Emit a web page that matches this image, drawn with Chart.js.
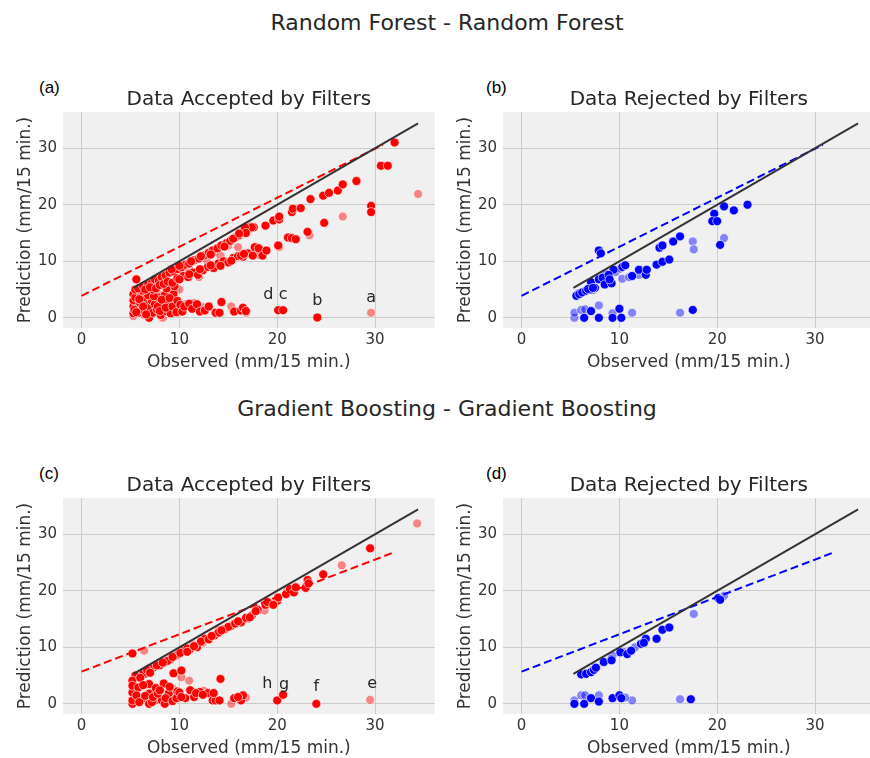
<!DOCTYPE html>
<html>
<head>
<meta charset="utf-8">
<script src="https://cdn.jsdelivr.net/npm/chart.js@4.4.0/dist/chart.umd.min.js"></script>
<style>
  body { margin: 0; width: 870px; height: 758px; overflow: hidden; background: #fff; position: relative; font-family: "DejaVu Sans", sans-serif; }
  .suptitle { position: absolute; left: 0; width: 894px; text-align: center; font-size: 22px; line-height: 26px; color: #262626; }
  .letter { position: absolute; font-family: "Liberation Sans", Arial, sans-serif; font-size: 17px; line-height: 18px; color: #000; }
  canvas { position: absolute; }
</style>
</head>
<body>
<div class="suptitle" style="top:10px">Random Forest - Random Forest</div>
<div class="suptitle" style="top:396px">Gradient Boosting - Gradient Boosting</div>
<div class="letter" style="left:39px;top:79px">(a)</div>
<div class="letter" style="left:486px;top:79px">(b)</div>
<div class="letter" style="left:39px;top:465px">(c)</div>
<div class="letter" style="left:486px;top:465px">(d)</div>
<canvas id="chartA" width="440" height="300" style="left:0;top:80px"></canvas>
<canvas id="chartB" width="440" height="300" style="left:440px;top:80px"></canvas>
<canvas id="chartC" width="440" height="300" style="left:0;top:466px"></canvas>
<canvas id="chartD" width="440" height="300" style="left:440px;top:466px"></canvas>
<script>
// ticks
const xTicks = [0, 10, 20, 30];
const yTicks = [0, 10, 20, 30];

// 1:1 reference line and the fitted lines, [observed, prediction]
const identityLine = [[5.3, 5.3], [34.4, 34.4]];
const rfFitLine = [[0, 3.9], [30.8, 30.6]];
const gbFitLine = [[0, 5.7], [32.1, 26.9]];

// Random Forest, accepted by filters
const rfAcceptedSolid = [
  [5.3,0.8],[5.3,2.0],[5.3,3.1],[5.3,4.2],[5.4,1.4],[5.5,3.6],[5.8,0.9],[6.0,2.6],[6.1,4.2],[6.2,1.4],
  [6.5,3.2],[6.7,2.2],[6.9,0.0],[6.9,1.7],[7.0,4.6],[7.2,3.0],[7.3,0.9],[7.5,2.4],[7.7,1.5],[7.9,3.6],
  [8.1,0.5],[8.3,2.3],[8.5,4.0],[8.7,1.1],[8.9,2.8],[9.2,1.3],[9.4,4.2],[9.1,0.8],[5.6,6.8],
  [5.6,1.0],[5.9,3.3],[6.3,2.0],[6.6,0.6],[6.8,4.0],[7.4,3.8],[7.8,2.0],[8.0,1.2],[8.2,3.2],[8.6,1.8],
  [9.0,3.5],[9.3,2.0],[9.7,1.0],[9.8,3.0],[5.5,5.0],[6.2,4.8],[7.3,5.0],[8.7,5.2],[9.5,5.6],
  [10.1,2.3],[10.3,1.1],[10.5,2.0],[11.0,2.5],[11.3,1.6],[11.8,2.4],[12.1,1.1],[12.6,1.3],[13.0,2.0],
  [13.7,0.9],[14.1,0.9],[14.3,2.8],[15.6,1.1],[16.3,1.3],[16.5,1.8],[16.8,1.2],[20.1,1.35],[20.6,1.35],[24.1,0.05],
  [5.8,5.2],[6.3,5.6],[6.8,6.0],[7.2,6.2],[7.5,6.8],[7.9,6.5],[8.2,7.2],[8.6,7.5],[9.0,8.0],[9.4,8.2],
  [9.8,8.6],[10.2,8.9],[10.6,9.4],[11.0,9.6],[11.5,10.2],[12.0,10.5],[12.5,11.0],[13.0,11.5],[13.4,11.9],
  [13.9,12.3],[14.3,12.8],[14.8,13.2],[15.2,13.6],[15.7,14.2],[16.1,14.6],[16.4,15.0],[16.8,15.3],
  [17.2,15.8],[17.3,16.1],[17.6,16.0],[18.8,16.3],[19.6,17.2],[20.2,17.4],[20.2,17.9],[21.5,18.7],
  [21.6,19.3],[22.4,19.4],[23.4,21.0],[24.7,21.6],[25.3,22.1],[26.2,22.5],[26.7,23.6],[28.1,24.2],
  [30.6,26.9],[31.3,26.9],[32.0,31.0],[29.6,19.8],[29.6,18.7],
  [9.2,8.6],[10.0,9.2],[11.2,10.0],[12.2,10.9],[13.2,11.2],[14.6,12.6],[15.5,14.0],[16.6,15.6],
  [6.5,5.0],[7.0,5.4],[7.6,5.2],[8.0,5.8],[8.4,6.0],[8.8,6.4],[9.3,6.2],[9.8,7.0],[10.4,7.4],[10.9,7.2],
  [11.4,8.0],[11.9,7.6],[12.4,8.4],[12.9,9.0],[13.5,8.8],[14.0,9.6],[14.5,10.0],[15.0,9.8],[15.5,10.6],
  [16.0,10.9],[16.5,10.8],[17.0,11.4],[17.5,11.0],[17.7,12.5],[18.1,12.3],[18.5,11.0],[18.9,11.9],
  [20.1,12.8],[21.1,14.2],[21.5,14.1],[21.9,13.9],[23.1,15.2],[24.8,16.8],[16.3,11.0],[17.4,16.0],
  [16.7,16.0],[16.8,15.0],[16.1,14.9],
  [10.0,6.8],[11.0,7.7],[12.1,8.6],[13.2,9.3],[14.2,9.2],[15.3,10.1],[16.6,11.3]
];
const rfAcceptedFaded = [
  [5.3,0.3],[5.6,2.8],[6.4,0.5],[7.1,1.2],[7.8,3.0],[8.3,0.0],[8.8,3.3],[9.6,2.0],[10.0,5.0],[10.6,2.4],
  [11.5,2.6],[12.3,1.9],[15.3,2.0],[16.8,0.9],[26.7,17.9],[29.6,0.9],[34.4,21.9],[20.2,12.5],[18.2,11.1],
  [12.0,7.2],[11.0,8.6],[13.5,11.5],[15.0,12.8],[7.5,4.5],[6.0,3.5],[9.0,5.0],[23.3,14.6],
  [6.8,2.6],[8.0,4.0],[9.8,1.5],[11.8,1.5],[12.8,10.2],[14.2,11.0],[16.0,12.5],[17.8,11.8]
];

// Random Forest, rejected by filters
const rfRejectedSolid = [
  [7.9,11.9],[8.1,11.4],[5.6,3.9],[5.9,4.2],[6.2,4.5],[6.6,4.8],[7.0,5.0],[7.1,6.3],[7.5,5.3],[7.9,6.8],
  [8.3,7.1],[8.5,5.9],[9.2,6.1],[9.4,8.5],[10.3,9.0],[10.6,9.3],[11.3,7.4],[12.0,8.5],[12.7,7.6],[12.8,8.5],
  [13.8,9.4],[14.4,9.9],[15.1,10.3],[14.1,12.4],[14.4,12.8],[15.5,13.5],[16.2,14.4],[19.7,18.4],[19.5,17.1],
  [20.0,17.1],[20.7,19.7],[21.7,19.0],[23.1,20.0],[20.3,12.9],[6.4,0.0],[7.1,1.2],[7.9,0.0],[9.3,0.0],
  [10.0,1.6],[10.2,0.0],[17.5,1.4],[6.8,5.1],[7.3,5.3],[8.9,7.6],[9.0,6.8]
];
const rfRejectedFaded = [
  [17.5,13.5],[17.6,12.1],[20.7,14.1],[10.3,6.9],[9.6,8.1],[10.1,8.7],[12.0,7.6],[8.6,7.8],[7.3,4.9],
  [5.4,0.0],[5.4,0.9],[6.1,1.4],[6.5,1.5],[7.9,2.2],[11.3,0.9],[16.2,0.9],[9.3,0.8],[11.0,7.2],[5.8,4.3]
];

// Gradient Boosting, accepted by filters
const gbAcceptedSolid = [
  [5.2,8.9],[6.0,5.0],[6.5,5.3],[6.9,5.9],[7.4,6.5],[7.9,7.1],[8.5,7.4],[9.1,7.9],[9.6,8.5],[10.4,9.4],
  [11.1,9.7],[11.8,10.0],[12.6,11.5],[13.6,12.1],[14.0,12.6],[14.6,13.2],[15.3,13.8],[16.3,14.4],[17.4,15.6],
  [18.0,16.6],[18.8,17.5],[20.0,18.2],[20.1,18.8],[20.9,19.4],[21.3,20.3],[21.7,19.7],[23.0,20.9],[23.1,21.9],
  [24.7,22.9],[29.5,27.5],[7.0,6.2],[8.0,6.8],[8.8,7.6],[9.9,8.8],[10.8,9.8],[12.2,11.0],[13.0,11.4],
  [15.0,13.6],[16.8,15.2],[17.2,15.3],
  [5.5,5.0],[6.3,5.4],[6.7,6.0],[7.7,6.8],[8.3,7.3],[9.3,8.3],[10.1,9.0],[10.8,9.2],[11.5,10.2],[13.3,12.0],
  [14.3,13.0],[15.7,14.2],[16.0,14.6],[17.8,16.4],[19.0,18.0],[19.6,17.5],[21.9,20.6],[22.9,20.5],[23.2,21.3],
  [5.2,4.1],[5.2,0.0],[5.2,0.6],[5.2,2.0],[5.2,3.2],[5.8,2.9],[6.2,0.9],[6.0,4.6],[6.9,1.8],[6.9,0.0],
  [6.9,3.5],[7.0,5.5],[7.5,0.6],[7.6,2.8],[8.2,0.6],[8.4,3.6],[8.9,1.8],[8.5,0.0],[9.4,5.4],[10.2,5.9],
  [10.6,1.0],[11.1,2.4],[12.1,2.1],[12.9,1.9],[13.4,0.6],[14.2,4.4],[15.6,1.0],[16.3,0.6],[16.5,1.5],
  [20.0,0.6],[20.6,1.6],[24.0,0.0],[9.8,2.2],[11.5,1.2],[13.7,0.6],
  [5.6,1.5],[5.9,0.3],[6.3,3.3],[6.5,1.4],[7.2,0.3],[7.3,1.2],[7.8,1.8],[8.0,2.4],[8.6,1.0],[9.0,3.0],
  [9.3,0.5],[9.7,1.0],[10.0,2.0],[10.2,1.2],[11.7,1.9],[12.4,1.6],[13.5,1.9],[14.1,0.6],[16.0,1.2]
];
const gbAcceptedFaded = [
  [34.3,31.9],[26.6,24.5],[18.7,16.5],[6.4,9.4],[29.5,0.7],[15.3,0.0],[11.0,4.1],[10.2,4.7],[9.4,2.6],
  [7.2,2.1],[5.8,1.2],[17.0,15.0],[19.2,17.8],[12.4,10.8],[11.4,10.5],[8.2,7.0],[6.6,5.9],[5.5,2.5],
  [16.8,1.1],[12.5,2.3],[14.0,13.0],[21.0,20.0]
];

// Gradient Boosting, rejected by filters
const gbRejectedSolid = [
  [6.1,5.2],[6.6,5.3],[7.1,5.6],[7.4,6.0],[7.6,6.4],[8.4,7.4],[9.2,7.9],[10.1,9.1],[10.8,8.8],[11.2,9.4],
  [12.2,10.6],[12.7,11.5],[13.8,11.5],[14.4,13.1],[15.1,13.5],[20.1,18.7],[20.3,18.4],[5.4,0.0],[6.4,0.0],
  [7.1,1.0],[7.9,0.4],[9.3,1.0],[10.0,1.5],[10.2,1.0],[17.3,0.8],[9.2,7.7],[12.5,10.8]
];
const gbRejectedFaded = [
  [5.4,0.6],[6.1,1.5],[6.5,1.5],[7.9,1.5],[11.3,0.6],[16.2,0.8],[6.5,5.4],[7.2,5.9],[9.3,8.5],[10.4,9.2],
  [11.6,10.0],[17.6,15.9],[20.7,19.1],[10.6,1.1]
];

// point labels: [text, observed, prediction]
const rfLabels = [['a', 29.6, 2.85], ['b', 24.1, 2.25], ['c', 20.6, 3.25], ['d', 19.1, 3.25]];
const gbLabels = [['e', 29.7, 2.8], ['f', 24.0, 2.2], ['g', 20.7, 2.7], ['h', 19.0, 2.8]];

const TEXT = '#333';
Chart.defaults.font.family = '"DejaVu Sans", sans-serif';

function toXY(pairs) {
  return pairs.map(([x, y]) => ({x: x, y: y}));
}

// grey panel behind the plot area
const panelBg = {
  id: 'panelBg',
  beforeDraw(chart) {
    const a = chart.chartArea;
    chart.ctx.save();
    chart.ctx.fillStyle = '#f0f0f0';
    chart.ctx.fillRect(a.left, a.top, a.right - a.left, a.bottom - a.top);
    chart.ctx.restore();
  }
};

// letters next to single points
const pointLetters = {
  id: 'pointLetters',
  afterDatasetsDraw(chart, args, opts) {
    const ctx = chart.ctx;
    ctx.save();
    ctx.font = '16px "DejaVu Sans"';
    ctx.fillStyle = '#262626';
    ctx.textAlign = 'center';
    ctx.textBaseline = 'alphabetic';
    (opts.items || []).forEach(([txt, x, y]) => {
      ctx.fillText(txt, chart.scales.x.getPixelForValue(x), chart.scales.y.getPixelForValue(y));
    });
    ctx.restore();
  }
};

function pointSet(pts, fill) {
  return {
    data: toXY(pts),
    backgroundColor: fill,
    borderColor: 'rgba(255,255,255,0.8)',
    borderWidth: 0.8,
    pointRadius: 4.5
  };
}

function lineSet(pts, color, dash) {
  return {
    data: toXY(pts),
    showLine: true,
    borderColor: color,
    borderWidth: 2,
    borderDash: dash,
    pointRadius: 0
  };
}

// Builds one sub plot
function buildPanel(id, title, solid, faded, fitLine, color, fadedColor, letters) {
  return new Chart(document.getElementById(id), {
    type: 'scatter',
    data: {
      datasets: [
        lineSet(identityLine, '#333', []),
        lineSet(fitLine, color, [8, 4]),
        pointSet(solid, color),
        pointSet(faded, fadedColor)
      ]
    },
    options: {
      responsive: false,
      animation: false,
      layout: {padding: {left: 0, right: 3, top: 0, bottom: 0}},
      plugins: {
        legend: {display: false},
        tooltip: {enabled: false},
        title: {
          display: true,
          fullSize: false,
          text: title,
          color: '#262626',
          font: {size: 20, weight: 'normal'},
          padding: {top: 8, bottom: 0}
        },
        pointLetters: {items: letters}
      },
      scales: {
        x: {
          type: 'linear',
          min: -1.9,
          max: 36.1,
          afterBuildTicks: s => { s.ticks = xTicks.map(v => ({value: v})); },
          afterFit: s => { s.height = 52; },
          grid: {color: '#cbcbcb', lineWidth: 1, drawTicks: false},
          border: {display: false},
          ticks: {color: TEXT, font: {size: 15}, padding: 3},
          title: {display: true, text: 'Observed (mm/15 min.)', color: TEXT, font: {size: 17}, padding: {top: 0, bottom: 7}}
        },
        y: {
          type: 'linear',
          min: -1.8,
          max: 36.4,
          afterBuildTicks: s => { s.ticks = yTicks.map(v => ({value: v})); },
          afterFit: s => { s.width = 63; },
          grid: {color: '#cbcbcb', lineWidth: 1, drawTicks: false},
          border: {display: false},
          ticks: {color: TEXT, font: {size: 15}, padding: 6},
          title: {display: true, text: 'Prediction (mm/15 min.)', color: TEXT, font: {size: 17}, padding: {top: 15, bottom: 0}}
        }
      }
    },
    plugins: [panelBg, pointLetters]
  });
}

const RED = 'rgb(255,0,0)', RED_FADED = 'rgba(255,0,0,0.45)';
const BLUE = 'rgb(0,0,255)', BLUE_FADED = 'rgba(0,0,255,0.45)';

buildPanel('chartA', 'Data Accepted by Filters', rfAcceptedSolid, rfAcceptedFaded, rfFitLine, RED, RED_FADED, rfLabels);
buildPanel('chartB', 'Data Rejected by Filters', rfRejectedSolid, rfRejectedFaded, rfFitLine, BLUE, BLUE_FADED, []);
buildPanel('chartC', 'Data Accepted by Filters', gbAcceptedSolid, gbAcceptedFaded, gbFitLine, RED, RED_FADED, gbLabels);
buildPanel('chartD', 'Data Rejected by Filters', gbRejectedSolid, gbRejectedFaded, gbFitLine, BLUE, BLUE_FADED, []);
</script>
</body>
</html>
